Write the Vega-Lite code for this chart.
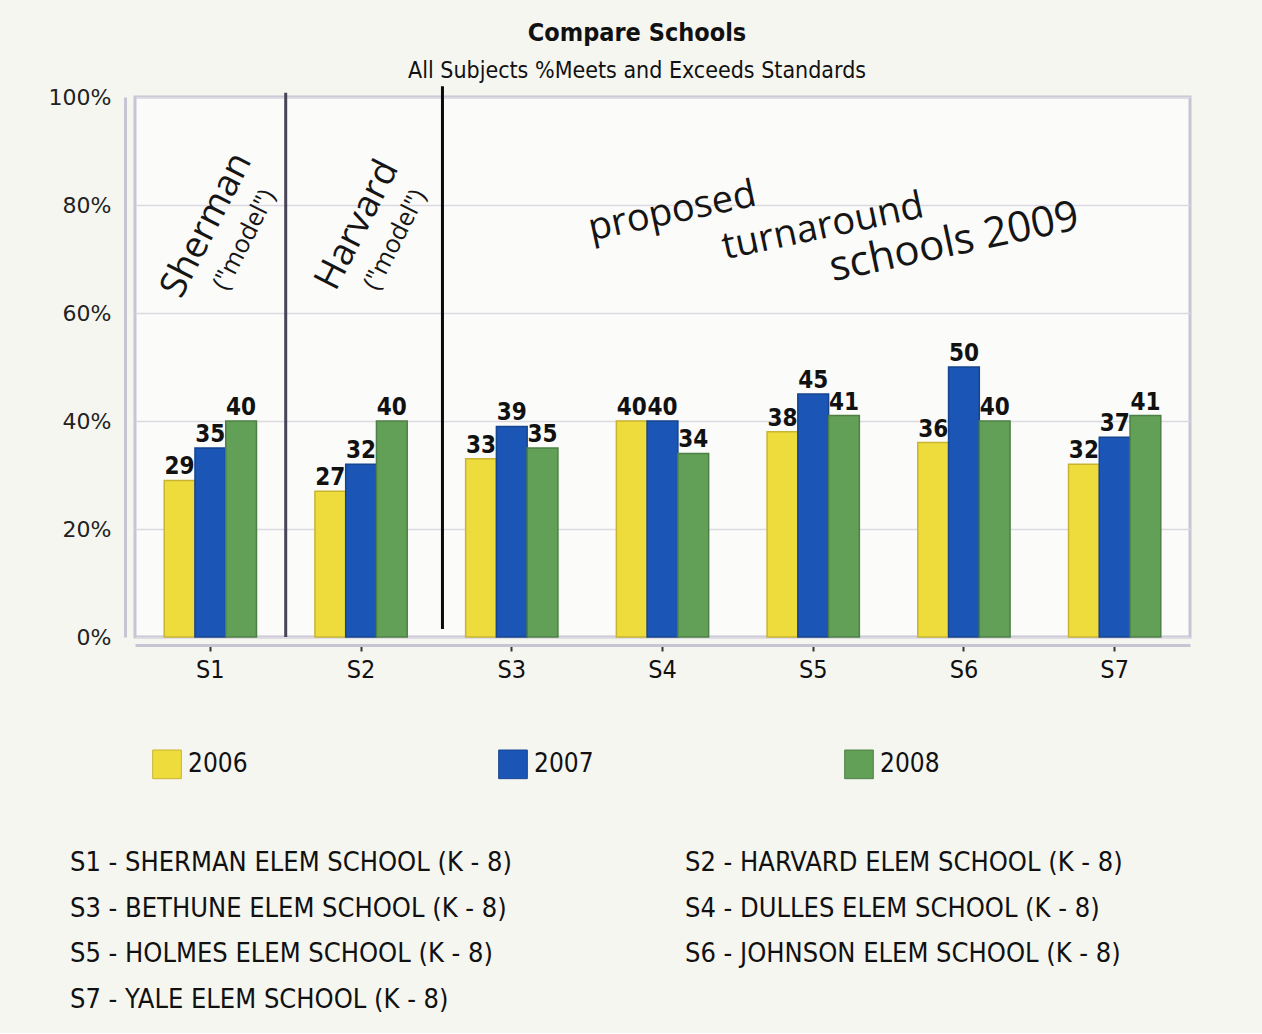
{
  "$schema": "https://vega.github.io/schema/vega-lite/v6.json",
  "background": "#f6f6f1",
  "padding": {"left": 46, "top": 21, "right": 72, "bottom": 20},
  "title": {
    "text": "Compare Schools",
    "subtitle": "All Subjects %Meets and Exceeds Standards",
    "anchor": "middle",
    "dx": 18,
    "font": "DejaVu Sans Condensed, Liberation Sans",
    "fontSize": 25,
    "fontWeight": "bold",
    "color": "#111",
    "subtitleFont": "DejaVu Sans Condensed, Liberation Sans",
    "subtitleFontSize": 23,
    "subtitleColor": "#111",
    "subtitlePadding": 14,
    "offset": 0
  },
  "datasets": {
    "scores": [
      {"school": "S1", "year": "2006", "pct": 29},
      {"school": "S1", "year": "2007", "pct": 35},
      {"school": "S1", "year": "2008", "pct": 40},
      {"school": "S2", "year": "2006", "pct": 27},
      {"school": "S2", "year": "2007", "pct": 32},
      {"school": "S2", "year": "2008", "pct": 40},
      {"school": "S3", "year": "2006", "pct": 33},
      {"school": "S3", "year": "2007", "pct": 39},
      {"school": "S3", "year": "2008", "pct": 35},
      {"school": "S4", "year": "2006", "pct": 40},
      {"school": "S4", "year": "2007", "pct": 40},
      {"school": "S4", "year": "2008", "pct": 34},
      {"school": "S5", "year": "2006", "pct": 38},
      {"school": "S5", "year": "2007", "pct": 45},
      {"school": "S5", "year": "2008", "pct": 41},
      {"school": "S6", "year": "2006", "pct": 36},
      {"school": "S6", "year": "2007", "pct": 50},
      {"school": "S6", "year": "2008", "pct": 40},
      {"school": "S7", "year": "2006", "pct": 32},
      {"school": "S7", "year": "2007", "pct": 37},
      {"school": "S7", "year": "2008", "pct": 41}
    ],
    "dividers": [
      {"after": "S1", "top": 100.8, "bottom": 0}
    ],
    "dividers2": [
      {"after": "S2", "top": 102, "bottom": 1.5}
    ],
    "models": [
      {"school": "S1", "pct": 77.6, "note": "Sherman"},
      {"school": "S2", "pct": 77.6, "note": "Harvard"}
    ],
    "models2": [
      {"school": "S1", "pct": 77.6, "note": "(\"model\")"},
      {"school": "S2", "pct": 77.6, "note": "(\"model\")"}
    ],
    "proposed": [
      {"school": "S4", "pct": 78.3, "note": "proposed"},
      {"school": "S5", "pct": 75.5, "note": "turnaround"}
    ],
    "proposed2": [
      {"school": "S6", "pct": 73.5, "note": "schools 2009"}
    ],
    "key": [
      {"col": "left", "row": 1, "label": "S1 - SHERMAN ELEM SCHOOL (K - 8)"},
      {"col": "right", "row": 1, "label": "S2 - HARVARD ELEM SCHOOL (K - 8)"},
      {"col": "left", "row": 2, "label": "S3 - BETHUNE ELEM SCHOOL (K - 8)"},
      {"col": "right", "row": 2, "label": "S4 - DULLES ELEM SCHOOL (K - 8)"},
      {"col": "left", "row": 3, "label": "S5 - HOLMES ELEM SCHOOL (K - 8)"},
      {"col": "right", "row": 3, "label": "S6 - JOHNSON ELEM SCHOOL (K - 8)"},
      {"col": "left", "row": 4, "label": "S7 - YALE ELEM SCHOOL (K - 8)"}
    ]
  },
  "vconcat": [
    {
      "width": 1055,
      "height": 540,
      "encoding": {
        "x": {
          "field": "school",
          "type": "nominal",
          "title": null,
          "scale": {"domain": ["S1", "S2", "S3", "S4", "S5", "S6", "S7"], "paddingInner": 0, "paddingOuter": 0},
          "axis": {
            "labelAngle": 0,
            "labelFont": "DejaVu Sans Condensed, Liberation Sans",
            "labelFontSize": 25,
            "labelColor": "#111",
            "labelPadding": 6,
            "offset": 8,
            "domainColor": "#c9c4d4",
            "domainWidth": 3,
            "tickColor": "#333",
            "tickWidth": 2,
            "tickSize": 6
          }
        }
      },
      "layer": [
        {
          "data": {"name": "scores"},
          "mark": {"type": "bar", "strokeWidth": 1.5},
          "encoding": {
            "xOffset": {"field": "year", "type": "nominal", "scale": {"paddingInner": 0, "paddingOuter": 0.95}},
            "y": {
              "field": "pct",
              "type": "quantitative",
              "title": null,
              "scale": {"domain": [0, 100]},
              "axis": {
                "values": [0, 20, 40, 60, 80, 100],
                "labelExpr": "datum.value + '%'",
                "labelFont": "DejaVu Sans",
                "labelFontSize": 22,
                "labelColor": "#222",
                "labelPadding": 14,
                "offset": 10,
                "ticks": false,
                "domainColor": "#c9c4d4",
                "domainWidth": 3,
                "gridColor": "#dcd9e2",
                "gridWidth": 1.5
              }
            },
            "color": {
              "field": "year",
              "type": "nominal",
              "scale": {"domain": ["2006", "2007", "2008"], "range": ["#eedc3c", "#1b55b6", "#62a057"]},
              "legend": {
                "title": null,
                "orient": "none",
                "legendX": 17,
                "legendY": 652,
                "direction": "horizontal",
                "columns": 3,
                "columnPadding": 248,
                "symbolType": "square",
                "symbolSize": 820,
                "symbolStrokeWidth": 1,
                "symbolStrokeColor": "#8a8a60",
                "labelFont": "DejaVu Sans Condensed, Liberation Sans",
                "labelFontSize": 26,
                "labelColor": "#111",
                "labelOffset": 6
              }
            },
            "stroke": {
              "field": "year",
              "type": "nominal",
              "scale": {"domain": ["2006", "2007", "2008"], "range": ["#c8b430", "#16448f", "#4d8045"]},
              "legend": null
            }
          }
        },
        {
          "data": {"name": "scores"},
          "mark": {
            "type": "text",
            "baseline": "bottom",
            "dy": -1,
            "font": "DejaVu Sans Condensed, Liberation Sans",
            "fontSize": 24,
            "fontWeight": "bold",
            "color": "#111"
          },
          "encoding": {
            "xOffset": {"field": "year", "type": "nominal"},
            "y": {"field": "pct", "type": "quantitative"},
            "text": {"field": "pct", "type": "quantitative"}
          }
        },
        {
          "data": {"name": "dividers"},
          "mark": {"type": "rule", "color": "#4a4458", "strokeWidth": 3},
          "encoding": {
            "x": {"field": "after", "type": "nominal", "bandPosition": 1},
            "y": {"field": "top", "type": "quantitative"},
            "y2": {"field": "bottom"}
          }
        },
        {
          "data": {"name": "dividers2"},
          "mark": {"type": "rule", "color": "#0a0a0a", "strokeWidth": 3},
          "encoding": {
            "x": {"field": "after", "type": "nominal", "bandPosition": 1.04},
            "y": {"field": "top", "type": "quantitative"},
            "y2": {"field": "bottom"}
          }
        },
        {
          "data": {"name": "models"},
          "mark": {
            "type": "text",
            "angle": -63,
            "dx": -8,
            "font": "Open Sans",
            "fontSize": 37,
            "color": "#151515"
          },
          "encoding": {
            "y": {"field": "pct", "type": "quantitative"},
            "text": {"field": "note"}
          }
        },
        {
          "data": {"name": "models2"},
          "mark": {
            "type": "text",
            "angle": -63,
            "dx": -4,
            "dy": 40,
            "font": "Open Sans",
            "fontSize": 25,
            "color": "#151515"
          },
          "encoding": {
            "y": {"field": "pct", "type": "quantitative"},
            "text": {"field": "note"}
          }
        },
        {
          "data": {"name": "proposed"},
          "mark": {
            "type": "text",
            "angle": -12,
            "dx": 10,
            "font": "Open Sans",
            "fontSize": 38,
            "color": "#151515"
          },
          "encoding": {
            "y": {"field": "pct", "type": "quantitative"},
            "text": {"field": "note"}
          }
        },
        {
          "data": {"name": "proposed2"},
          "mark": {
            "type": "text",
            "angle": -12,
            "dx": -10,
            "font": "Open Sans",
            "fontSize": 42,
            "color": "#151515"
          },
          "encoding": {
            "y": {"field": "pct", "type": "quantitative"},
            "text": {"field": "note"}
          }
        }
      ]
    },
    {
      "width": 615,
      "height": 137,
      "view": {"stroke": null, "fill": null},
      "data": {"name": "key"},
      "mark": {
        "type": "text",
        "align": "left",
        "baseline": "middle",
        "dx": -65,
        "font": "DejaVu Sans Condensed, Liberation Sans",
        "fontSize": 27,
        "color": "#111"
      },
      "encoding": {
        "x": {"field": "col", "type": "ordinal", "scale": {"type": "point", "padding": 0, "domain": ["left", "right"]}, "axis": null},
        "y": {"field": "row", "type": "ordinal", "scale": {"type": "point", "padding": 0}, "axis": null},
        "text": {"field": "label"}
      }
    }
  ],
  "spacing": 165,
  "config": {
    "view": {"stroke": "#c9c4d4", "strokeWidth": 3, "fill": "#fbfbf9"}
  }
}
